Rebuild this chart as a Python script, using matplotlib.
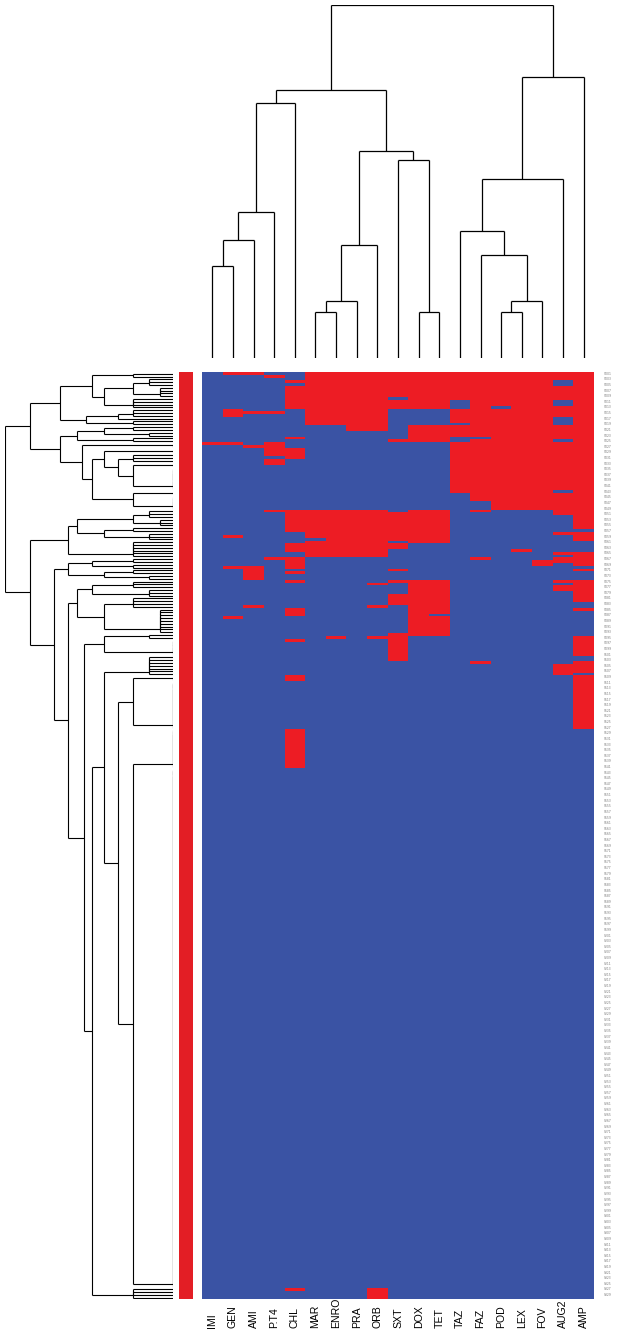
import numpy as np
import matplotlib
matplotlib.use("Agg")
import matplotlib.pyplot as plt
from matplotlib.collections import LineCollection
from matplotlib.colors import ListedColormap

# ---- data ----
antibiotics = ["IMI", "GEN", "AMI", "P.T4", "CHL", "MAR", "ENRO", "PRA", "ORB", "SXT",
               "DOX", "TET", "TAZ", "FAZ", "POD", "LEX", "FOV", "AUG2", "AMP"]
n_rows = 330

# resistant (red) row runs [start, stop) for each antibiotic, top to bottom
red_runs = [
    [(25, 26)],
    [(0, 1), (13, 16), (25, 26), (58, 59), (69, 70), (87, 88)],
    [(0, 1), (14, 15), (26, 27), (69, 74), (83, 84)],
    [(1, 2), (14, 15), (25, 30), (31, 33), (49, 50), (66, 67)],
    [(3, 4), (5, 13), (23, 24), (27, 31), (49, 57), (61, 64), (66, 70), (71, 72), (74, 75),
     (84, 87), (95, 96), (108, 110), (127, 141), (326, 327)],
    [(0, 19), (49, 59), (60, 66)],
    [(0, 19), (49, 66), (94, 95)],
    [(0, 21), (49, 66)],
    [(0, 21), (49, 66), (75, 76), (83, 84), (94, 95), (326, 330)],
    [(0, 9), (10, 13), (24, 25), (50, 60), (61, 63), (70, 71), (74, 75), (79, 83), (93, 103)],
    [(0, 13), (19, 25), (49, 61), (74, 94)],
    [(0, 13), (19, 25), (49, 61), (74, 86), (87, 94)],
    [(0, 10), (13, 18), (19, 23), (25, 43)],
    [(0, 23), (24, 46), (49, 50), (66, 67), (103, 104)],
    [(0, 12), (13, 49)],
    [(0, 49), (63, 64)],
    [(0, 49), (67, 69)],
    [(0, 3), (5, 10), (12, 16), (19, 24), (25, 42), (43, 51), (57, 58), (64, 65), (66, 68),
     (74, 75), (76, 78), (104, 108)],
    [(0, 56), (57, 60), (64, 69), (70, 71), (74, 82), (84, 85), (94, 101), (103, 107), (108, 127)],
]

# column dendrogram: (height, left, right), leaves are column indices
col_tree = (10.0,
            (7.59,
             (7.22, (4.14, (3.34, (2.6, 0, 1), 2), 3), 4),
             (5.86, (3.2, (1.61, (1.3, 5, 6), 7), 8), (5.61, 9, (1.3, 10, 11)))),
            (7.96, (5.07, (3.6, 12, (2.92, 13, (1.61, (1.3, 14, 15), 16))), 17), 18))

# row dendrogram: (height, left, right); [start, stop, h] = block of rows joined at height h
row_tree = (10.0,
            (8.5,
             (6.7,
              (4.8, [0, 2, 2.4], (4.1, (2.4, [2, 5, 1.4], [5, 9, 0.8]), [9, 13, 2.4])),
              (5.2, (3.3, [13, 16, 2.4], [16, 17, 0]), [17, 19, 2.4])),
             (6.7,
              (5.7, (4.1, [19, 21, 2.4], [21, 23, 1.4]), [23, 25, 2.4]),
              (5.4, [25, 27, 0],
               (4.8,
                (4.1, [27, 29, 0], (3.3, [29, 32, 2.4], (2.4, [32, 34, 0], [34, 42, 0]))),
                (2.4, [42, 44, 0], [44, 49, 0]))))),
            (8.5,
             (6.25,
              (5.7, (2.4, [49, 52, 1.4], [52, 55, 0.8]), (4.1, [55, 57, 2.4], [57, 60, 1.4])),
              [60, 66, 2.4]),
             (7.1,
              (6.25, (4.8, [66, 68, 2.4], [68, 70, 2.4]), (4.1, [70, 72, 2.4], [72, 74, 1.4])),
              (6.25,
               (5.7, (4.8, [74, 77, 2.4], [77, 80, 1.4]), (4.1, [80, 84, 2.4], [84, 93, 0.8])),
               (5.3,
                (4.1, [93, 95, 1.4], [95, 101, 0]),
                (4.8,
                 (4.1, [101, 108, 1.4],
                  (3.3, (2.4, [108, 110, 0], [110, 127, 0]), (2.4, [127, 141, 0], [141, 326, 0]))),
                 [326, 330, 2.4]))))))

row_labels = [f"S{i + 1:03d}" for i in range(n_rows)]

blue = "#3A53A4"
red = "#ED1C24"

mat = np.zeros((n_rows, len(antibiotics)))
for j, runs in enumerate(red_runs):
    for s, e in runs:
        mat[s:e, j] = 1


def row_segments(node, segs):
    # returns (centre, height) of the node
    if isinstance(node, list):
        s, e, h = node
        c, ch = s + 0.5, 0.0
        for i in range(s + 1, e):
            y = i + 0.5
            segs.append([(h, c), (h, y)])
            segs.append([(ch, c), (h, c)])
            segs.append([(0, y), (h, y)])
            c, ch = (c + y) / 2, h
        return c, ch
    h, left, right = node
    c1, h1 = row_segments(left, segs)
    c2, h2 = row_segments(right, segs)
    segs.append([(h, c1), (h, c2)])
    segs.append([(h1, c1), (h, c1)])
    segs.append([(h2, c2), (h, c2)])
    return (c1 + c2) / 2, h


def col_segments(node, segs):
    if isinstance(node, int):
        return node + 0.5, 0.0
    h, left, right = node
    x1, h1 = col_segments(left, segs)
    x2, h2 = col_segments(right, segs)
    segs.append([(x1, h), (x2, h)])
    segs.append([(x1, h1), (x1, h)])
    segs.append([(x2, h2), (x2, h)])
    return (x1 + x2) / 2, h


W, H = 625, 1339
fig = plt.figure(figsize=(W / 100, H / 100), dpi=100)


def px_axes(x0, y0, w, h):
    ax = fig.add_axes([x0 / W, 1 - (y0 + h) / H, w / W, h / H])
    ax.set_axis_off()
    return ax


top, bottom = 372.3, 1299.3
left, right = 202.0, 594.0

# heatmap
ax_h = px_axes(left, top, right - left, bottom - top)
ax_h.imshow(mat, cmap=ListedColormap([blue, red]), aspect="auto", interpolation="nearest",
            extent=(0, len(antibiotics), n_rows, 0), vmin=0, vmax=1)
ax_h.set_xlim(0, len(antibiotics))
ax_h.set_ylim(n_rows, 0)

# side colour bar
ax_s = px_axes(179, top, 14, bottom - top)
ax_s.axvspan(0, 1, color="#E31E25")
ax_s.set_xlim(0, 1)

# column dendrogram
ax_c = px_axes(left, 5, right - left, 353)
segs = []
col_segments(col_tree, segs)
ax_c.add_collection(LineCollection(segs, colors="black", linewidths=0.9))
ax_c.set_xlim(0, len(antibiotics))
ax_c.set_ylim(0, 10)

# row dendrogram
ax_r = px_axes(5, top, 168, bottom - top)
segs = []
row_segments(row_tree, segs)
ax_r.add_collection(LineCollection(segs, colors="black", linewidths=0.8))
ax_r.set_xlim(10, 0)
ax_r.set_ylim(n_rows, 0)

# column labels
for j, name in enumerate(antibiotics):
    x = (left + (j + 0.5) * (right - left) / len(antibiotics)) / W
    fig.text(x, 1 - 1328 / H, name, rotation=90, ha="center", va="bottom",
             fontsize=7.6, family=["Liberation Sans", "DejaVu Sans"])

# row labels (tiny)
for i in range(0, n_rows, 2):
    y = top + (i + 0.5) * (bottom - top) / n_rows
    fig.text(604 / W, 1 - y / H, row_labels[i], ha="left", va="center",
             fontsize=2.2, color="#777777")

fig.savefig("out.png", dpi=100)
